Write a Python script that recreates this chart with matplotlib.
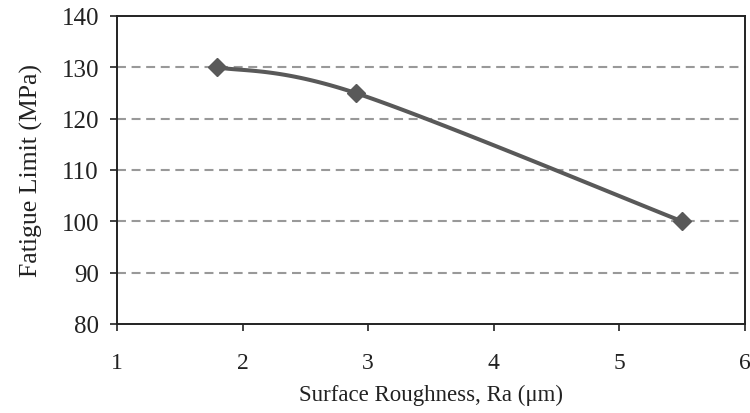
import numpy as np
import matplotlib
matplotlib.use("Agg")
import matplotlib.pyplot as plt

roughness = [1.8, 2.9, 5.5]
fatigue = [130, 125, 100]
xticks = [1, 2, 3, 4, 5, 6]
yticks = [80, 90, 100, 110, 120, 130, 140]

plt.rcParams['font.family'] = ['Liberation Serif', 'DejaVu Serif']

fig = plt.figure(figsize=(7.5, 4.14), dpi=100)
ax = fig.add_axes([0.156, 0.215, 0.837, 0.744])
ax.set_xlim(1, 6)
ax.set_ylim(80, 140)
ax.set_xticks(xticks)
ax.set_yticks(yticks)
for y in yticks[1:-1]:
    ax.axhline(y, color='#999999', lw=1.5, ls=(0, (4.3, 2.7)), zorder=1)

# Excel-like smoothed line computed in display space
fig.canvas.draw()
pts = ax.transData.transform(np.column_stack([roughness, fatigue]))
n = len(pts)
curve = [pts[0]]
for i in range(n - 1):
    p0 = pts[i - 1] if i > 0 else pts[i]
    p1 = pts[i]
    p2 = pts[i + 1]
    p3 = pts[i + 2] if i + 2 < n else pts[i + 1]
    c1 = p1 + (p2 - p0) / 6
    c2 = p2 - (p3 - p1) / 6
    t = np.linspace(0, 1, 60)[1:, None]
    seg = (1 - t) ** 3 * p1 + 3 * (1 - t) ** 2 * t * c1 + 3 * (1 - t) * t ** 2 * c2 + t ** 3 * p2
    curve.extend(seg)
curve = ax.transData.inverted().transform(np.array(curve))
ax.plot(curve[:, 0], curve[:, 1], color='#595959', lw=2.9, zorder=3, solid_capstyle='round')
ax.plot(roughness, fatigue, ls='none', marker='D', ms=9.5, color='#595959', zorder=4)

for s in ax.spines.values():
    s.set_color('#222222')
    s.set_linewidth(1.4)
ax.tick_params(direction='out', length=5, width=1.2, labelsize=17, colors='#222222')
ax.tick_params(axis='x', pad=15)
ax.tick_params(axis='y', pad=8, labelsize=18)
ax.set_xlabel('Surface Roughness, Ra (μm)', fontsize=16.5, color='#222222', labelpad=8)
ax.set_ylabel('Fatigue Limit (MPa)', fontsize=18.5, color='#222222', labelpad=13)

fig.savefig('out.png', dpi=100)
